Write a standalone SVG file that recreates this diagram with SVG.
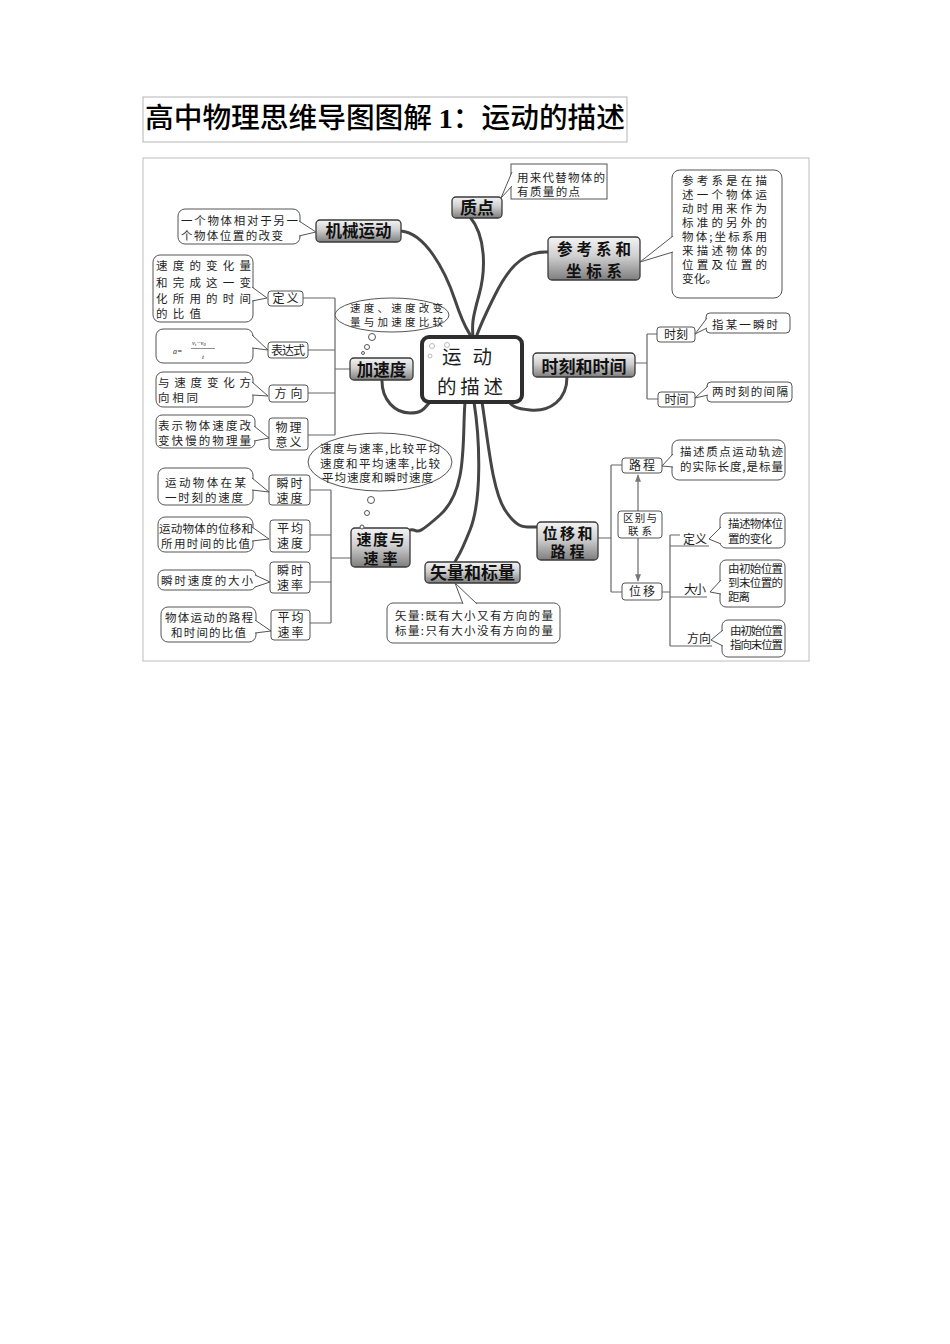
<svg xmlns="http://www.w3.org/2000/svg" width="950" height="1344" viewBox="0 0 950 1344">
<defs>
<linearGradient id="ng" x1="0" y1="0" x2="0" y2="1">
<stop offset="0" stop-color="#f4f4f4"/>
<stop offset="0.45" stop-color="#cfcfcf"/>
<stop offset="1" stop-color="#7e7e7e"/>
</linearGradient>
<marker id="ah" viewBox="0 0 10 10" refX="9" refY="5" markerWidth="5" markerHeight="5" orient="auto-start-reverse"><path d="M0,1 L10,5 L0,9 z" fill="#777"/></marker>
</defs>
<style>
text{font-family:"Noto Sans CJK SC","Noto Sans",sans-serif;fill:#1e1e1e}
.node rect{fill:url(#ng);stroke:#3a3a3a;stroke-width:1.3}
.nt{font-size:16px;font-weight:bold;fill:#111;text-anchor:middle}
.cb{fill:#fff;stroke:#555;stroke-width:1}
.ct{font-size:11.5px}
.tl{fill:#fff;stroke:#555;stroke-width:1}
.sb{fill:#fff;stroke:#555;stroke-width:1}
.st{font-size:12px;text-anchor:middle}
.br{fill:none;stroke:#666;stroke-width:1.2}
.con{fill:none;stroke:#454545;stroke-width:3;stroke-linecap:round}
.bub{fill:#fff;stroke:#555;stroke-width:1}
</style>
<rect width="950" height="1344" fill="#fff"/>

<g id="title">
<rect x="143" y="97" width="484" height="45" fill="none" stroke="#b5b5b5" stroke-width="1"/>
<text x="145" y="128" font-size="28" font-weight="500" textLength="480" lengthAdjust="spacingAndGlyphs" style="fill:#000">高中物理思维导图图解 <tspan style="font-family:'Liberation Serif',serif;font-weight:bold">1</tspan>：运动的描述</text>
</g>

<rect id="frame" x="143" y="158" width="666" height="503" fill="none" stroke="#bdbdbd" stroke-width="1"/>

<g id="connectors">
<path class="con" d="M401,231 C425,233 445,270 455,300 S468,330 472,338"/>
<path class="con" d="M470,217 C486,236 486,270 479,295 S472,325 473,338"/>
<path class="con" d="M548,252 C520,250 505,275 495,295 S480,325 476,338"/>
<path class="con" d="M382,381 C382,400 395,413 410,413 S425,406 432,400"/>
<path class="con" d="M567,377 C567,400 550,412 530,410 S512,404 507,400"/>
<path class="con" d="M465,402 C462,440 468,490 440,515 S420,528 410,530"/>
<path class="con" d="M474,402 C480,440 482,500 470,530 S458,555 455,562"/>
<path class="con" d="M482,402 C488,440 492,490 505,510 S525,527 537,527"/>
<path class="br" d="M303,298 H335 M308,350 H335 M308,393 H335 M308,435 H335 M335,298 V435 M335,369 H350"/>
<path class="br" d="M310,490 H331 M310,535 H331 M310,582 H331 M310,623 H331 M331,490 V623 M331,558 H351"/>
<path class="br" d="M635,363 H647 M647,334 V399 M647,334 H657 M647,399 H658"/>
<path class="br" d="M598,538 H611 M611,465 V592 M611,465 H622 M611,592 H622"/>
<path class="br" d="M662,592 H670 M670,535 V646 M670,535 H680 M670,546 H709 M670,597 H707 M670,646 H712"/>
<line x1="638" y1="475" x2="638" y2="581" stroke="#888" stroke-width="1.5" marker-start="url(#ah)" marker-end="url(#ah)"/>
</g>

<g id="center">
<rect x="422" y="337" width="100" height="65" rx="7" fill="#fff" stroke="#2e2e2e" stroke-width="4"/>
<circle cx="432" cy="346" r="2.5" fill="none" stroke="#aaa" stroke-width="0.8"/>
<circle cx="447" cy="345" r="2.5" fill="none" stroke="#aaa" stroke-width="0.8"/>
<circle cx="430" cy="356" r="2" fill="none" stroke="#aaa" stroke-width="0.8"/>
<text x="467" y="364" font-size="19.5" text-anchor="middle" textLength="50">运动</text>
<text x="470" y="393.5" font-size="19.5" text-anchor="middle" textLength="66">的描述</text>
</g>

<g id="zhidian" class="node">
<rect x="452" y="197" width="50" height="21" rx="4"/>
<text class="nt" x="477" y="213.5" style="font-size:17px">质点</text>
</g>
<g id="zhidian-note">
<rect class="cb" x="511" y="164" width="96" height="35"/>
<polyline class="tl" points="512,172 501,198 512,186"/>
<text class="ct" x="517" y="182" textLength="88">用来代替物体的</text>
<text class="ct" x="517" y="195.5" textLength="63">有质量的点</text>
</g>

<g id="jixie" class="node">
<rect x="316" y="220" width="85" height="22" rx="4"/>
<text class="nt" x="358.5" y="237" style="font-size:16.5px">机械运动</text>
</g>
<g id="jixie-note">
<rect class="cb" x="178" y="209" width="122" height="35" rx="7"/>
<polyline class="tl" points="299,221 316,232 299,236"/>
<text class="ct" x="181" y="224.5" textLength="117">一个物体相对于另一</text>
<text class="ct" x="181" y="239.5" textLength="102">个物体位置的改变</text>
</g>

<g id="cankao" class="node">
<rect x="548" y="237" width="92" height="43" rx="4"/>
<text class="nt" x="594" y="254.5" style="font-size:15.5px" textLength="74">参考系和</text>
<text class="nt" x="594" y="276.5" style="font-size:15.5px" textLength="56">坐标系</text>
</g>
<g id="cankao-note">
<rect class="cb" x="672" y="170" width="110" height="128" rx="8"/>
<polyline class="tl" points="673,236 640,262 673,252"/>
<text class="ct" x="682" y="184.5" textLength="85">参考系是在描</text>
<text class="ct" x="682" y="198.5" textLength="85">述一个物体运</text>
<text class="ct" x="682" y="212.5" textLength="85">动时用来作为</text>
<text class="ct" x="682" y="226.5" textLength="85">标准的另外的</text>
<text class="ct" x="682" y="240.5" textLength="85">物体;坐标系用</text>
<text class="ct" x="682" y="254.5" textLength="85">来描述物体的</text>
<text class="ct" x="682" y="268.5" textLength="85">位置及位置的</text>
<text class="ct" x="682" y="282.5" textLength="35">变化。</text>
</g>

<g id="shike-shijian" class="node">
<rect x="533" y="353" width="102" height="24" rx="4"/>
<text class="nt" x="584" y="373" style="font-size:17px">时刻和时间</text>
</g>
<g id="shike">
<rect class="sb" x="657" y="327" width="38" height="15" rx="3"/>
<text class="st" x="676" y="339">时刻</text>
<rect class="cb" x="706" y="313" width="84" height="20" rx="4"/>
<polyline class="tl" points="707,318 695,334 707,328"/>
<text class="ct" x="712" y="329" textLength="66">指某一瞬时</text>
</g>
<g id="shijian">
<rect class="sb" x="658" y="392" width="37" height="15" rx="3"/>
<text class="st" x="676.5" y="404">时间</text>
<rect class="cb" x="707" y="382" width="85" height="20" rx="4"/>
<polyline class="tl" points="708,386 695,398 708,395"/>
<text class="ct" x="712" y="396" textLength="76">两时刻的间隔</text>
</g>

<g id="jiasudu" class="node">
<rect x="350" y="358" width="63" height="22" rx="4"/>
<text class="nt" x="381.5" y="375.5" style="font-size:16.5px">加速度</text>
</g>
<g id="jiasudu-bubble">
<ellipse class="bub" cx="392" cy="315" rx="57" ry="17"/>
<circle class="bub" cx="372" cy="337" r="3.5"/>
<circle class="bub" cx="367" cy="347" r="2.5"/>
<circle class="bub" cx="363" cy="353" r="1.5"/>
<text class="ct" x="350" y="311.5" textLength="93" style="font-size:10.5px">速度、速度改变</text>
<text class="ct" x="350" y="325.5" textLength="93" style="font-size:10.5px">量与加速度比较</text>
</g>
<g id="dingyi">
<rect class="cb" x="153" y="255" width="100" height="67" rx="7"/>
<polyline class="tl" points="252,287 267,298 252,301"/>
<text class="ct" x="156" y="269.5" textLength="95">速度的变化量</text>
<text class="ct" x="156" y="286.5" textLength="95">和完成这一变</text>
<text class="ct" x="156" y="302.5" textLength="95">化所用的时间</text>
<text class="ct" x="156" y="317.5" textLength="45">的比值</text>
<rect class="sb" x="268" y="291" width="35" height="15" rx="3"/>
<text class="st" x="285.5" y="303" textLength="26">定义</text>
</g>
<g id="biaodashi">
<rect class="cb" x="156" y="329" width="97" height="34" rx="7"/>
<polyline class="tl" points="252,335 268,350 252,348"/>
<text x="173" y="354" font-size="8" font-style="italic" style="font-family:'Liberation Serif',serif">a=</text>
<text x="192" y="345" font-size="6.5" font-style="italic" style="font-family:'Liberation Serif',serif">v<tspan font-size="4.5" dy="1">t</tspan><tspan dy="-1">−v</tspan><tspan font-size="4.5" dy="1">0</tspan></text>
<line x1="191" y1="348.5" x2="215" y2="348.5" stroke="#444" stroke-width="0.6"/>
<text x="202" y="359" font-size="7" font-style="italic" style="font-family:'Liberation Serif',serif">t</text>
<rect class="sb" x="268" y="342" width="40" height="16" rx="3"/>
<text class="st" x="288" y="354.5" textLength="34">表达式</text>
</g>
<g id="fangxiang">
<rect class="cb" x="156" y="372" width="97" height="35" rx="7"/>
<polyline class="tl" points="252,382 268,396 252,395"/>
<text class="ct" x="158" y="386.5" textLength="93">与速度变化方</text>
<text class="ct" x="158" y="401.5" textLength="40">向相同</text>
<rect class="sb" x="269" y="385" width="39" height="17" rx="3"/>
<text class="st" x="288.5" y="398" textLength="28">方向</text>
</g>
<g id="wuliyiyi">
<rect class="cb" x="156" y="415" width="99" height="33" rx="6"/>
<polyline class="tl" points="254,426 269,438 254,441"/>
<text class="ct" x="158" y="429.5" textLength="93">表示物体速度改</text>
<text class="ct" x="158" y="444.5" textLength="93">变快慢的物理量</text>
<rect class="sb" x="269" y="418" width="39" height="32" rx="3"/>
<text class="st" x="288.5" y="431.5" textLength="26">物理</text>
<text class="st" x="288.5" y="447" textLength="26">意义</text>
</g>

<g id="sudu-sulv" class="node">
<rect x="351" y="528" width="59" height="39" rx="4"/>
<text class="nt" x="380.5" y="545" style="font-size:15px" textLength="48">速度与</text>
<text class="nt" x="380.5" y="563.5" style="font-size:15px" textLength="34">速率</text>
</g>
<g id="sudu-bubble">
<ellipse class="bub" cx="380" cy="462" rx="72" ry="29"/>
<circle class="bub" cx="371" cy="500" r="3.5"/>
<circle class="bub" cx="367" cy="513" r="2.5"/>
<circle class="bub" cx="362" cy="527" r="2"/>
<text class="ct" x="320" y="452.5" textLength="120">速度与速率,比较平均</text>
<text class="ct" x="320" y="467.5" textLength="120">速度和平均速率,比较</text>
<text class="ct" x="322" y="481.5" textLength="111">平均速度和瞬时速度</text>
</g>
<g id="shunshisudu">
<rect class="cb" x="158" y="468" width="95" height="37" rx="7"/>
<polyline class="tl" points="252,478 269,492 252,490"/>
<text class="ct" x="165" y="486.5" textLength="81">运动物体在某</text>
<text class="ct" x="165" y="501.5" textLength="78">一时刻的速度</text>
<rect class="sb" x="269" y="475" width="41" height="30" rx="3"/>
<text class="st" x="289.5" y="487.5" textLength="26">瞬时</text>
<text class="st" x="289.5" y="502.5" textLength="26">速度</text>
</g>
<g id="pingjunsudu">
<rect class="cb" x="158" y="517" width="95" height="35" rx="7"/>
<polyline class="tl" points="252,527 269,539 252,541"/>
<text class="ct" x="159" y="532.5" textLength="94">运动物体的位移和</text>
<text class="ct" x="161" y="547.5" textLength="89">所用时间的比值</text>
<rect class="sb" x="270" y="520" width="40" height="32" rx="3"/>
<text class="st" x="290" y="532.5" textLength="26">平均</text>
<text class="st" x="290" y="548" textLength="26">速度</text>
</g>
<g id="shunshisulv">
<rect class="cb" x="158" y="570" width="98" height="20" rx="6"/>
<polyline class="tl" points="255,575 270,582 255,587"/>
<text class="ct" x="161" y="584.5" textLength="92">瞬时速度的大小</text>
<rect class="sb" x="270" y="562" width="40" height="31" rx="3"/>
<text class="st" x="290" y="574.5" textLength="26">瞬时</text>
<text class="st" x="290" y="590" textLength="26">速率</text>
</g>
<g id="pingjunsulv">
<rect class="cb" x="161" y="607" width="95" height="35" rx="7"/>
<polyline class="tl" points="255,620 271,631 255,633"/>
<text class="ct" x="165" y="621.5" textLength="88">物体运动的路程</text>
<text class="ct" x="171" y="636.5" textLength="75">和时间的比值</text>
<rect class="sb" x="271" y="610" width="39" height="30" rx="3"/>
<text class="st" x="290.5" y="622" textLength="26">平均</text>
<text class="st" x="290.5" y="637" textLength="26">速率</text>
</g>

<g id="shiliang" class="node">
<rect x="425" y="562" width="95" height="21" rx="4"/>
<text class="nt" x="472.5" y="579" style="font-size:17px">矢量和标量</text>
</g>
<g id="shiliang-note">
<rect class="cb" x="387" y="603" width="173" height="40" rx="6"/>
<polyline class="tl" points="463,604 455,583 477,604"/>
<text class="ct" x="395" y="619.5" textLength="158">矢量:既有大小又有方向的量</text>
<text class="ct" x="395" y="634.5" textLength="158">标量:只有大小没有方向的量</text>
</g>

<g id="weiyi-lucheng" class="node">
<rect x="537" y="522" width="61" height="38" rx="4"/>
<text class="nt" x="567.5" y="538.5" style="font-size:15px" textLength="50">位移和</text>
<text class="nt" x="567.5" y="557" style="font-size:15px" textLength="34">路程</text>
</g>
<g id="lucheng">
<rect class="sb" x="622" y="458" width="40" height="15" rx="3"/>
<text class="st" x="642" y="470" textLength="26">路程</text>
<rect class="cb" x="672" y="440" width="113" height="40" rx="7"/>
<polyline class="tl" points="673,454 662,466 673,467"/>
<text class="ct" x="680" y="456" textLength="103">描述质点运动轨迹</text>
<text class="ct" x="680" y="471" textLength="103">的实际长度,是标量</text>
</g>
<g id="qubie">
<rect class="sb" x="618" y="511" width="44" height="27" rx="3"/>
<text class="st" x="640" y="522" style="font-size:10.5px" textLength="34">区别与</text>
<text class="st" x="640" y="535" style="font-size:10.5px" textLength="24">联系</text>
</g>
<g id="weiyi">
<rect class="sb" x="622" y="583" width="40" height="17" rx="3"/>
<text class="st" x="642" y="596" textLength="26">位移</text>
</g>
<g id="weiyi-dingyi">
<text class="st" x="695" y="544" textLength="24">定义</text>
<rect class="cb" x="720" y="513" width="65" height="35" rx="6"/>
<polyline class="tl" points="721,527 709,539 721,544"/>
<text class="ct" x="728" y="527.5" textLength="55">描述物体位</text>
<text class="ct" x="728" y="542.5" textLength="44">置的变化</text>
</g>
<g id="weiyi-daxiao">
<text class="st" x="695" y="594" textLength="22">大小</text>
<rect class="cb" x="720" y="560" width="65" height="47" rx="6"/>
<polyline class="tl" points="721,580 710,592 721,594"/>
<text class="ct" x="728" y="572.5" textLength="55">由初始位置</text>
<text class="ct" x="728" y="586.5" textLength="55">到末位置的</text>
<text class="ct" x="728" y="600.5" textLength="22">距离</text>
</g>
<g id="weiyi-fangxiang">
<text class="st" x="699" y="643" textLength="24">方向</text>
<rect class="cb" x="722" y="620" width="63" height="37" rx="6"/>
<polyline class="tl" points="723,630 711,640 723,646"/>
<text class="ct" x="730" y="634.5" textLength="53">由初始位置</text>
<text class="ct" x="730" y="648.5" textLength="53">指向末位置</text>
</g>
</svg>
